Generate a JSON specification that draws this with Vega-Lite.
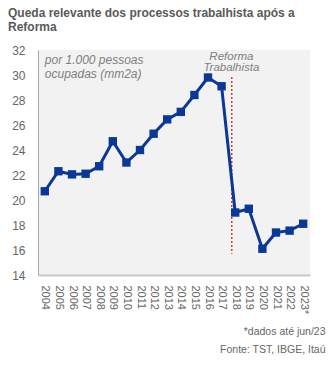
{
  "$schema": "https://vega.github.io/schema/vega-lite/v6.json",
  "autosize": "none",
  "width": 272,
  "height": 225,
  "padding": {"left": 38, "top": 50, "right": 25, "bottom": 95},
  "background": "white",
  "config": {
    "font": "Liberation Sans",
    "view": {"fill": "#f2f2f2", "stroke": null}
  },
  "title": {
    "text": ["Queda relevante dos processos trabalhista após a", "Reforma"],
    "anchor": "start",
    "frame": "group",
    "dx": -30,
    "offset": 10.5,
    "fontSize": 12,
    "fontWeight": "bold",
    "color": "#595959",
    "lineHeight": 13.5
  },
  "data": {
    "values": [
      {"ano": 2004, "processos": 20.7},
      {"ano": 2005, "processos": 22.3},
      {"ano": 2006, "processos": 22.05},
      {"ano": 2007, "processos": 22.1},
      {"ano": 2008, "processos": 22.7},
      {"ano": 2009, "processos": 24.7},
      {"ano": 2010, "processos": 23.0},
      {"ano": 2011, "processos": 24.0},
      {"ano": 2012, "processos": 25.3},
      {"ano": 2013, "processos": 26.45},
      {"ano": 2014, "processos": 27.05},
      {"ano": 2015, "processos": 28.4},
      {"ano": 2016, "processos": 29.8},
      {"ano": 2017, "processos": 29.1},
      {"ano": 2018, "processos": 19.0},
      {"ano": 2019, "processos": 19.3},
      {"ano": 2020, "processos": 16.1},
      {"ano": 2021, "processos": 17.4},
      {"ano": 2022, "processos": 17.55},
      {"ano": 2023, "processos": 18.1}
    ]
  },
  "encoding": {
    "x": {
      "field": "ano",
      "type": "quantitative",
      "scale": {"domain": [2003.5, 2023.5], "nice": false, "zero": false},
      "axis": {
        "values": [2004, 2005, 2006, 2007, 2008, 2009, 2010, 2011, 2012, 2013, 2014, 2015, 2016, 2017, 2018, 2019, 2020, 2021, 2022, 2023],
        "format": "d",
        "labelExpr": "datum.value == 2023 ? '2023*' : datum.label",
        "labelAngle": 90,
        "labelAlign": "left",
        "labelBaseline": "middle",
        "labelPadding": 10,
        "labelFontSize": 11,
        "labelColor": "#666666",
        "labelOverlap": false,
        "labelFlush": false,
        "ticks": false,
        "grid": false,
        "domainColor": "#c8c8c8",
        "domainWidth": 2,
        "title": ["*dados até jun/23", "Fonte: TST, IBGE, Itaú"],
        "titleAnchor": "end",
        "titleAlign": "right",
        "titleBaseline": "alphabetic",
        "titleX": 287,
        "titleY": 59,
        "titleFontSize": 10.5,
        "titleFontWeight": "normal",
        "titleColor": "#666666",
        "titleLineHeight": 18
      }
    },
    "y": {
      "field": "processos",
      "type": "quantitative",
      "scale": {"domain": [14, 32], "nice": false, "zero": false},
      "axis": {
        "values": [14, 16, 18, 20, 22, 24, 26, 28, 30, 32],
        "labelPadding": 13,
        "labelFontSize": 12,
        "labelColor": "#666666",
        "ticks": false,
        "grid": false,
        "domainColor": "#a6a6a6",
        "title": null
      }
    }
  },
  "layer": [
    {
      "transform": [{"filter": "datum.ano == 2004"}],
      "mark": {"type": "rule", "color": "#c0101a", "strokeDash": [2, 2], "strokeWidth": 1.2},
      "encoding": {
        "x": {"datum": 2017.75},
        "y": {"datum": 29.85},
        "y2": {"datum": 15.7}
      }
    },
    {
      "mark": {"type": "line", "color": "#0b3797", "strokeWidth": 3}
    },
    {
      "mark": {"type": "square", "color": "#0b3797", "opacity": 1, "filled": true, "size": 70}
    },
    {
      "transform": [{"filter": "datum.ano == 2004"}],
      "mark": {"type": "text", "align": "center", "baseline": "middle", "fontStyle": "italic", "fontSize": 11.5, "color": "#7f7f7f", "lineHeight": 11.6},
      "encoding": {
        "x": {"datum": 2017.72},
        "y": {"datum": 31.46},
        "text": {"value": ["Reforma", "Trabalhista"]}
      }
    },
    {
      "transform": [{"filter": "datum.ano == 2004"}],
      "mark": {"type": "text", "align": "left", "baseline": "middle", "fontStyle": "italic", "fontSize": 12, "color": "#7f7f7f", "lineHeight": 14},
      "encoding": {
        "x": {"datum": 2004.0},
        "y": {"datum": 31.2},
        "text": {"value": ["por 1.000 pessoas", "ocupadas (mm2a)"]}
      }
    }
  ]
}
